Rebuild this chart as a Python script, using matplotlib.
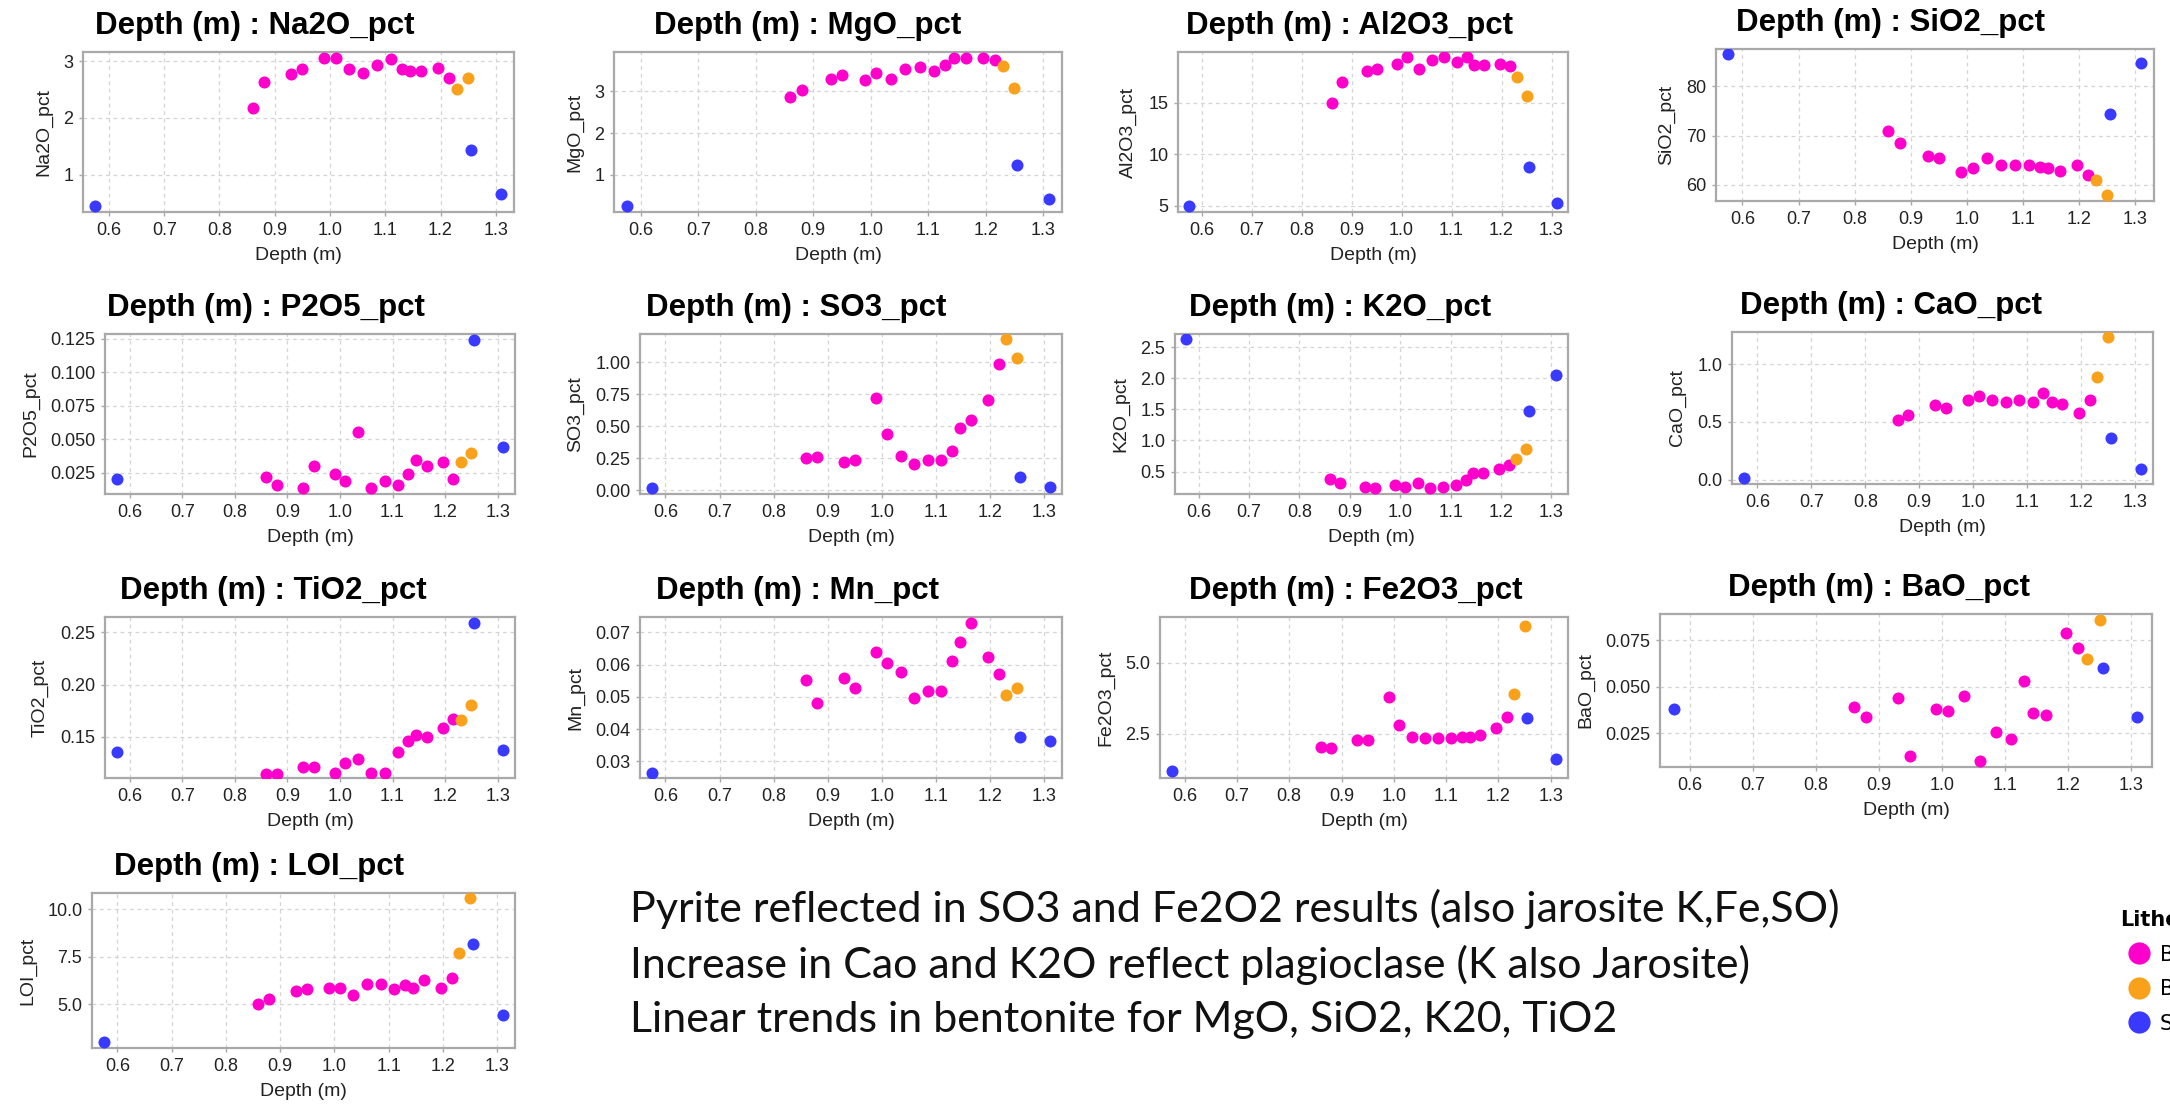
import numpy as np
import matplotlib
matplotlib.use("Agg")
import matplotlib.pyplot as plt
from matplotlib.lines import Line2D
from matplotlib.ticker import FormatStrFormatter

W, H = 2170, 1105

# samples ordered by depth
DEPTH = [0.575, 0.86, 0.88, 0.93, 0.95, 0.99, 1.01, 1.035, 1.06, 1.085,
         1.11, 1.13, 1.145, 1.165, 1.196, 1.216, 1.23, 1.25, 1.255, 1.31]
LITHO = ["S"] + ["B"] * 15 + ["A", "A", "S", "S"]

NA2O = [0.45, 2.17, 2.63, 2.78, 2.86, 3.06, 3.06, 2.86, 2.79, 2.93,
        3.03, 2.86, 2.83, 2.83, 2.88, 2.70, 2.50, 2.70, 1.44, 0.65]
MGO = [0.25, 2.86, 3.04, 3.30, 3.38, 3.26, 3.43, 3.30, 3.53, 3.58,
       3.49, 3.62, 3.79, 3.79, 3.79, 3.75, 3.61, 3.09, 1.24, 0.43]
AL2O3 = [5.0, 15.0, 17.0, 18.1, 18.3, 18.8, 19.4, 18.3, 19.2, 19.4,
         19.0, 19.4, 18.7, 18.7, 18.8, 18.6, 17.5, 15.7, 8.8, 5.3]
SIO2 = [86.6, 71.0, 68.4, 65.9, 65.5, 62.5, 63.4, 65.5, 64.0, 64.0,
        64.0, 63.6, 63.4, 62.9, 64.0, 61.9, 61.0, 57.9, 74.3, 84.8]
P2O5 = [0.0205, 0.0218, 0.016, 0.014, 0.030, 0.0245, 0.019, 0.0555, 0.0135, 0.019,
        0.016, 0.0245, 0.0346, 0.030, 0.033, 0.0205, 0.033, 0.040, 0.124, 0.0443]
SO3 = [0.014, 0.25, 0.26, 0.22, 0.234, 0.72, 0.44, 0.265, 0.206, 0.234,
       0.234, 0.31, 0.487, 0.55, 0.707, 0.99, 1.18, 1.036, 0.103, 0.028]
K2O = [2.63, 0.386, 0.32, 0.25, 0.23, 0.29, 0.26, 0.32, 0.23, 0.25,
       0.29, 0.36, 0.47, 0.47, 0.54, 0.60, 0.71, 0.86, 1.47, 2.05]
CAO = [0.01, 0.515, 0.56, 0.645, 0.62, 0.69, 0.72, 0.69, 0.67, 0.69,
       0.67, 0.75, 0.67, 0.655, 0.577, 0.69, 0.89, 1.234, 0.36, 0.09]
TIO2 = [0.1355, 0.115, 0.115, 0.1215, 0.1215, 0.116, 0.125, 0.1285, 0.116, 0.116,
        0.1355, 0.1466, 0.152, 0.150, 0.159, 0.167, 0.1665, 0.181, 0.2585, 0.1375]
MN = [0.0263, 0.0551, 0.0481, 0.0559, 0.0528, 0.064, 0.0606, 0.0578, 0.0498, 0.0517,
      0.0517, 0.0611, 0.067, 0.0728, 0.0623, 0.057, 0.0506, 0.0528, 0.0376, 0.0364]
FE2O3 = [1.2, 2.05, 2.0, 2.3, 2.3, 3.8, 2.8, 2.4, 2.35, 2.35,
         2.35, 2.4, 2.4, 2.45, 2.7, 3.1, 3.9, 6.3, 3.05, 1.6]
BAO = [0.038, 0.039, 0.034, 0.044, 0.013, 0.038, 0.037, 0.045, 0.010, 0.026,
       0.022, 0.053, 0.036, 0.035, 0.079, 0.071, 0.065, 0.086, 0.060, 0.034]
LOI = [3.0, 5.0, 5.29, 5.69, 5.78, 5.87, 5.87, 5.47, 6.05, 6.05,
       5.78, 6.0, 5.87, 6.27, 5.87, 6.36, 7.68, 10.58, 8.19, 4.42]

LITHO_NAMES = {"B": "Bentonite", "A": "Bentonite (altered)", "S": "Sediment"}
LITHO_COLORS = {"B": "#ff00cc", "A": "#f9a11b", "S": "#3939ff"}

NOTES = [
    "Pyrite reflected in SO3 and Fe2O2 results (also jarosite K,Fe,SO)",
    "Increase in Cao and K2O reflect plagioclase (K also Jarosite)",
    "Linear trends in bentonite for MgO, SiO2, K20, TiO2",
]

X_TICKS = [0.6, 0.7, 0.8, 0.9, 1.0, 1.1, 1.2, 1.3]

# name, values, ylim, yticks, tick format, axes box in px (left, top, right, bottom), title centre x
PANELS = [
    ("Na2O_pct", NA2O, (0.34, 3.16), [1, 2, 3], "%d", (83, 52, 514, 212), 255),
    ("MgO_pct", MGO, (0.11, 3.94), [1, 2, 3], "%d", (614, 52, 1062, 212), 808),
    ("Al2O3_pct", AL2O3, (4.41, 19.93), [5, 10, 15], "%d", (1178, 52, 1568, 212), 1349),
    ("SiO2_pct", SIO2, (56.7, 87.6), [60, 70, 80], "%d", (1716, 49, 2154, 201), 1891),
    ("P2O5_pct", P2O5, (0.0093, 0.1287), [0.025, 0.05, 0.075, 0.1, 0.125], "%.3f", (105, 334, 515, 494), 266),
    ("SO3_pct", SO3, (-0.03, 1.223), [0, 0.25, 0.5, 0.75, 1.0], "%.2f", (640, 334, 1062, 494), 796),
    ("K2O_pct", K2O, (0.14, 2.71), [0.5, 1.0, 1.5, 2.0, 2.5], "%.1f", (1175, 334, 1568, 494), 1340),
    ("CaO_pct", CAO, (-0.038, 1.278), [0.0, 0.5, 1.0], "%.1f", (1732, 332, 2153, 484), 1891),
    ("TiO2_pct", TIO2, (0.1108, 0.2647), [0.15, 0.2, 0.25], "%.2f", (105, 617, 515, 778), 273),
    ("Mn_pct", MN, (0.0248, 0.0748), [0.03, 0.04, 0.05, 0.06, 0.07], "%.2f", (640, 617, 1062, 778), 797),
    ("Fe2O3_pct", FE2O3, (0.95, 6.6), [2.5, 5.0], "%.1f", (1160, 617, 1568, 778), 1356),
    ("BaO_pct", BAO, (0.007, 0.089), [0.025, 0.05, 0.075], "%.3f", (1660, 614, 2152, 767), 1879),
    ("LOI_pct", LOI, (2.7, 10.85), [5.0, 7.5, 10.0], "%.1f", (92, 893, 515, 1048), 259),
]

plt.rcParams["font.family"] = ["Liberation Sans", "DejaVu Sans"]

fig = plt.figure(figsize=(W / 100, H / 100), dpi=100)
fig.patch.set_facecolor("white")

depth = np.array(DEPTH)
litho = np.array(LITHO)

for name, vals, ylim, yticks, fmt, (l, t, r, b), tx in PANELS:
    ax = fig.add_axes([l / W, 1 - b / H, (r - l) / W, (b - t) / H])
    vals = np.array(vals)
    for code in ["B", "A", "S"]:
        m = litho == code
        ax.scatter(depth[m], vals[m], s=75, color=LITHO_COLORS[code],
                   linewidths=0, zorder=3)
    ax.set_xlim(0.553, 1.333)
    ax.set_ylim(*ylim)
    ax.set_xticks(X_TICKS)
    ax.set_yticks(yticks)
    ax.xaxis.set_major_formatter(FormatStrFormatter("%.1f"))
    ax.yaxis.set_major_formatter(FormatStrFormatter(fmt))
    ax.grid(True, color="#d4d4d4", linestyle=(0, (3, 3)), linewidth=0.9)
    ax.set_axisbelow(True)
    for sp in ax.spines.values():
        sp.set_color("#a9a9a9")
        sp.set_linewidth(1.6)
    ax.tick_params(labelsize=13, colors="#a9a9a9", labelcolor="#222222",
                   length=3, width=1.0, pad=4)
    ax.set_xlabel("Depth (m)", fontsize=14, color="#222222", labelpad=6)
    ax.set_ylabel(name, fontsize=14, color="#222222", labelpad=8)
    fig.text(tx / W, 1 - (t - 18) / H, "Depth (m) : " + name,
             ha="center", va="baseline", fontsize=22.5, fontweight="bold",
             color="black")

for i, line in enumerate(NOTES):
    fig.text(630 / W, 1 - (909 + 55.5 * i) / H, line, ha="left", va="center",
             fontsize=31, family=["Lato", "DejaVu Sans"], color="#111111")

handles = [Line2D([], [], marker="o", linestyle="none", markersize=16,
                  markerfacecolor=LITHO_COLORS[c], markeredgewidth=0)
           for c in ["B", "A", "S"]]
leg = fig.legend(handles, [LITHO_NAMES[c] for c in ["B", "A", "S"]],
                 loc="upper left", bbox_to_anchor=(2120 / W, 1 - 910 / H),
                 frameon=False, title="Lithology", alignment="left",
                 prop={"size": 15, "family": ["DejaVu Sans"]},
                 title_fontproperties={"size": 15, "weight": "bold", "family": ["DejaVu Sans"]},
                 borderpad=0, borderaxespad=0, handlelength=1.8, handletextpad=0.1,
                 labelspacing=0.7)

fig.savefig("out.png", dpi=100)
